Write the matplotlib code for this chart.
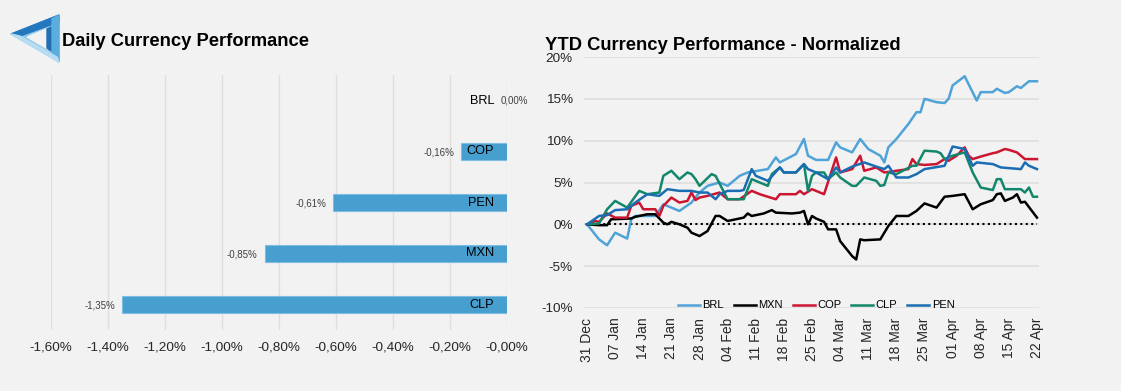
import numpy as np
import pandas as pd
import matplotlib
matplotlib.use('Agg')
import matplotlib.pyplot as plt
import matplotlib.dates as mdates
from matplotlib.patches import Polygon
from matplotlib.ticker import FuncFormatter

plt.rcParams['font.family'] = ['Liberation Sans', 'DejaVu Sans']
plt.rcParams['axes.unicode_minus'] = False

# ---------------- data ----------------
# daily performance (%)
daily_ccy = ['BRL', 'COP', 'PEN', 'MXN', 'CLP']
daily_perf = [0.00, -0.16, -0.61, -0.85, -1.35]

# YTD normalized performance (%), days counted from 31 Dec
brl_days = [0, 3, 5, 7, 10, 11, 12, 17, 19, 21, 23, 26, 28, 30, 33, 35, 38, 40, 45, 47, 48, 52, 54, 55,
            57, 60, 62, 63, 66, 68, 70, 73, 74, 75, 77, 80, 82, 83, 84, 87, 89, 90, 91, 94, 97, 98,
            101, 102, 104, 105, 107, 108, 110, 112]
brl_vals = [0, -1.8, -2.5, -1.0, -1.7, 0.6, 1.0, 1.0, 2.4, 2.0, 1.6, 2.6, 3.8, 4.6, 5.0, 4.6, 5.8, 6.2,
            6.6, 8.0, 7.4, 8.4, 10.2, 8.2, 7.7, 7.7, 9.8, 9.2, 8.6, 10.2, 9.0, 8.2, 7.4, 9.2, 10.2,
            12.0, 13.4, 13.4, 15.0, 14.6, 14.5, 15.0, 16.6, 17.7, 14.8, 15.8, 15.8, 16.2, 15.7, 15.8,
            16.5, 16.3, 17.1, 17.1]

mxn_days = [0, 3, 5, 6, 11, 12, 15, 17, 19, 20, 21, 23, 25, 26, 28, 30, 32, 33, 35, 36, 39, 40, 41,
            44, 46, 47, 51, 53, 54, 55, 56, 57, 59, 60, 62, 63, 66, 67, 68, 69, 73, 75, 77, 80, 82,
            84, 87, 89, 91, 94, 96, 98, 101, 102, 103, 104, 106, 107, 108, 109, 112]
mxn_vals = [0, -0.1, -0.1, 0.6, 0.7, 0.9, 1.2, 1.2, 0.2, 0.0, 0.3, 0.0, -0.4, -1.0, -1.4, -0.8, 1.0,
            1.0, 0.4, 0.5, 0.8, 1.3, 1.0, 1.3, 1.7, 1.4, 1.3, 1.4, 1.6, 0.0, 1.0, 0.7, 0.3, -0.6,
            -0.6, -2.0, -3.8, -4.2, -1.8, -1.9, -1.8, -0.2, 1.0, 1.0, 1.6, 2.5, 2.0, 3.3, 3.4, 3.6,
            1.8, 2.4, 2.9, 3.6, 3.7, 2.8, 3.2, 3.6, 2.6, 2.7, 0.8]

cop_days = [0, 2, 3, 5, 7, 10, 11, 13, 14, 17, 18, 19, 21, 23, 25, 26, 27, 28, 30, 33, 35, 38, 41,
            43, 47, 48, 52, 53, 54, 56, 59, 62, 63, 66, 68, 69, 72, 74, 80, 81, 82, 84, 87, 89, 90,
            92, 94, 95, 96, 98, 101, 102, 104, 105, 107, 109, 112]
cop_vals = [0, 0.4, 0.3, 1.3, 0.8, 0.8, 2.2, 2.6, 1.8, 1.8, 1.0, 2.2, 3.2, 2.6, 2.8, 3.8, 2.9, 3.2,
            3.4, 3.8, 3.0, 3.0, 4.0, 3.6, 3.0, 3.6, 3.6, 4.0, 3.6, 4.2, 3.6, 8.0, 6.2, 6.6, 8.2, 6.4,
            6.8, 6.2, 6.6, 7.8, 7.2, 7.1, 7.2, 7.8, 7.6, 8.2, 9.2, 8.2, 7.8, 8.1, 8.5, 8.6, 9.0, 8.9,
            8.6, 7.8, 7.8]

clp_days = [0, 3, 5, 7, 10, 13, 15, 18, 19, 21, 23, 25, 26, 27, 28, 31, 32, 35, 39, 41, 45, 46, 48,
            49, 52, 54, 55, 56, 57, 59, 60, 62, 63, 66, 67, 69, 72, 73, 74, 75, 77, 81, 82, 84, 87,
            88, 89, 91, 94, 96, 98, 101, 102, 103, 104, 108, 109, 110, 111, 112]
clp_vals = [0, 0.1, 1.8, 2.8, 2.0, 4.0, 3.6, 3.8, 5.8, 6.4, 5.4, 6.2, 6.0, 5.4, 4.6, 6.0, 5.8, 3.0,
            3.0, 5.4, 4.6, 6.0, 6.8, 6.2, 6.2, 7.2, 4.0, 5.8, 6.2, 6.2, 5.4, 6.2, 5.6, 4.6, 4.6, 5.6,
            5.2, 4.6, 4.7, 6.2, 6.0, 7.0, 7.0, 8.8, 8.7, 8.5, 7.8, 8.2, 8.6, 6.2, 4.4, 4.1, 5.4, 5.4,
            4.2, 4.2, 3.8, 4.4, 3.3, 3.3]

pen_days = [0, 3, 5, 7, 10, 12, 15, 18, 20, 23, 26, 28, 30, 32, 33, 35, 38, 39, 41, 42, 45, 48, 49,
            52, 54, 55, 57, 60, 62, 63, 66, 69, 72, 74, 75, 77, 80, 82, 84, 89, 91, 94, 96, 97, 101,
            103, 108, 109, 110, 112]
pen_vals = [0, 1.0, 1.1, 1.7, 1.8, 2.6, 3.6, 3.4, 4.2, 4.0, 4.0, 3.8, 3.8, 3.0, 3.6, 4.0, 4.0, 4.1,
            6.6, 5.8, 5.2, 6.8, 6.2, 6.2, 7.2, 6.6, 6.2, 5.4, 6.8, 6.2, 6.9, 7.4, 6.9, 6.6, 7.0, 5.6,
            5.6, 6.0, 6.6, 7.0, 9.3, 9.0, 7.0, 7.4, 7.2, 6.8, 6.6, 7.4, 7.0, 6.6]

start_date = pd.Timestamp('2018-12-31')
end_date = pd.Timestamp('2019-04-22')

series = [
    ('BRL', brl_days, brl_vals, '#4fa3d8'),
    ('MXN', mxn_days, mxn_vals, '#000000'),
    ('COP', cop_days, cop_vals, '#cc1530'),
    ('CLP', clp_days, clp_vals, '#12876c'),
    ('PEN', pen_days, pen_vals, '#1b6db3'),
]

bg = '#f2f2f2'
grid_c = '#dedede'
bar_c = '#469fcf'

fig = plt.figure(figsize=(11.21, 3.91), dpi=100, facecolor=bg)

# ---------------- logo ----------------
lax = fig.add_axes([0, 0, 1, 1], zorder=5)
lax.set_xlim(0, 1121)
lax.set_ylim(391, 0)
lax.axis('off')
lax.patch.set_alpha(0)
lax.add_patch(Polygon([(11, 34), (59, 15), (59, 62)], closed=True, color='#8cc6ea'))
lax.add_patch(Polygon([(11, 34), (59, 15), (59, 22), (20, 36)], closed=True, color='#2378bd'))
lax.add_patch(Polygon([(52, 19), (59, 15), (59, 62), (52, 56)], closed=True, color='#5aaede'))
lax.add_patch(Polygon([(27, 37), (51, 27), (51, 51)], closed=True, color=bg))
lax.add_patch(Polygon([(47, 29), (51, 27), (51, 51), (47, 48)], closed=True, color='#1f6fb2'))
lax.add_patch(Polygon([(11, 34), (20, 36), (57, 57), (59, 62)], closed=True, color='#b8dcf2'))

fig.text(62, 391 - 42, 'Daily Currency Performance', transform=None, fontsize=13.2,
         fontweight='bold', va='center', ha='left', color='black')
fig.text(545, 391 - 45, 'YTD Currency Performance - Normalized', transform=None, fontsize=13.2,
         fontweight='bold', va='center', ha='left', color='black')

# ---------------- left: daily bars ----------------
ax1 = fig.add_axes([51 / 1121, 61 / 391, 456 / 1121, 255 / 391])
ax1.set_facecolor(bg)
ypos = np.arange(len(daily_ccy))
ax1.barh(ypos, daily_perf, height=0.35, color=bar_c, edgecolor='#7dbde2', linewidth=0.8, zorder=3)
ax1.set_xlim(-1.6, 0)
ax1.set_ylim(len(daily_ccy) - 0.5, -0.5)
ax1.set_xticks(np.arange(-1.6, 0.01, 0.2))
ax1.xaxis.set_major_formatter(FuncFormatter(lambda v, p: f'{v:.2f}%'.replace('.', ',')))
ax1.set_yticks([])
ax1.grid(axis='x', color=grid_c, linewidth=1.0, zorder=0)
ax1.tick_params(axis='x', length=0, pad=8, labelsize=9.7, labelcolor='#262626')
for s in ax1.spines.values():
    s.set_visible(False)

for i, (c, v) in enumerate(zip(daily_ccy, daily_perf)):
    ax1.annotate(c, (0, i), xytext=(-13, 0), textcoords='offset pixels', ha='right',
                 va='center', fontsize=9.2, color='black', zorder=4)
    lbl = f'{v:.2f}%'.replace('.', ',')
    if v < 0:
        ax1.annotate(lbl, (v, i), xytext=(-7, -1), textcoords='offset pixels', ha='right',
                     va='center', fontsize=7, color='#404040', zorder=4)
    else:
        ax1.annotate(lbl, (v, i), xytext=(-6, 0), textcoords='offset pixels', ha='left',
                     va='center', fontsize=7, color='#404040', zorder=4)

# ---------------- right: YTD lines ----------------
ax2 = fig.add_axes([584 / 1121, 83 / 391, 455 / 1121, 251 / 391])
ax2.set_facecolor(bg)
for name, days, vals, col in series:
    d = start_date + pd.to_timedelta(days, unit='D')
    ax2.plot(d, vals, color=col, linewidth=1.8, label=name, zorder=3)

ax2.hlines(0, start_date, end_date, colors='black', linestyles=(0, (1, 1.6)), linewidth=1.5, zorder=2)
ax2.set_ylim(-10, 20)
ax2.set_yticks(np.arange(-10, 21, 5))
ax2.yaxis.set_major_formatter(FuncFormatter(lambda v, p: f'{v:.0f}%'))
ax2.set_xlim(start_date - pd.Timedelta(hours=18), end_date + pd.Timedelta(hours=12))
ax2.set_xticks(pd.date_range(start_date, end_date, freq='7D'))
ax2.xaxis.set_major_formatter(mdates.DateFormatter('%d %b'))
ax2.tick_params(axis='x', length=0, pad=7, labelsize=10, rotation=90, labelcolor='#262626')
ax2.tick_params(axis='y', length=0, pad=8, labelsize=9.7, labelcolor='#262626')
ax2.grid(axis='y', color=grid_c, linewidth=1.2, zorder=0)
for s in ax2.spines.values():
    s.set_visible(False)

ax2.legend(loc='center', bbox_to_anchor=(0.51, 0.01), ncol=5, frameon=False, fontsize=8,
           handlelength=2.0, handletextpad=0.2, columnspacing=0.9, borderpad=0)

fig.savefig('out.png', dpi=100, facecolor=bg)
